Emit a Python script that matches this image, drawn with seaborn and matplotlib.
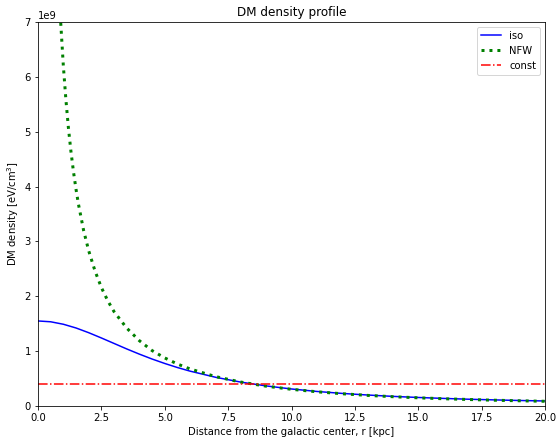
import matplotlib
matplotlib.use("Agg")
import matplotlib.pyplot as plt
import pandas as pd
import seaborn as sns

# values (density in eV/cm^3)
r_iso = [0, 0.5, 1, 1.5, 2, 2.5, 3, 3.5, 4, 4.5, 5, 5.5, 6, 7, 8, 9, 10,
         11, 12, 13, 14, 15, 16, 17, 18, 19, 20]
rho_iso = [1.55, 1.535, 1.49, 1.422, 1.336, 1.24, 1.14, 1.04, 0.945, 0.856,
           0.775, 0.701, 0.635, 0.524, 0.435, 0.366, 0.31, 0.265, 0.229,
           0.200, 0.175, 0.155, 0.138, 0.123, 0.111, 0.100, 0.0912]

r_nfw = [0.8, 0.9, 1.0, 1.1, 1.2, 1.3, 1.4, 1.5, 1.6, 1.8, 2.0, 2.25, 2.5,
         2.75, 3.0, 3.5, 4.0, 4.5, 5.0, 5.5, 6.0, 7, 8, 9, 10, 11, 12, 13,
         14, 15, 16, 17, 18, 19, 20]
rho_nfw = [7.90, 6.96, 6.20, 5.59, 5.07, 4.64, 4.27, 3.95, 3.67, 3.20, 2.83,
           2.46, 2.16, 1.92, 1.72, 1.42, 1.19, 1.01, 0.876, 0.765, 0.675,
           0.536, 0.436, 0.361, 0.304, 0.259, 0.223, 0.193, 0.169, 0.149,
           0.132, 0.118, 0.105, 0.0947, 0.0855]

r_const = [0, 20]
rho_const = [0.4, 0.4]

iso = pd.DataFrame({"r": r_iso, "rho": [v * 1e9 for v in rho_iso]})
nfw = pd.DataFrame({"r": r_nfw, "rho": [v * 1e9 for v in rho_nfw]})
const = pd.DataFrame({"r": r_const, "rho": [v * 1e9 for v in rho_const]})

fig = plt.figure(figsize=(557 / 72, 438 / 72), dpi=72)
ax = fig.add_axes([0.0682, 0.0731, 0.9103, 0.8767])

sns.lineplot(data=iso, x="r", y="rho", ax=ax, color="b", linewidth=1.5, label="iso")
sns.lineplot(data=nfw, x="r", y="rho", ax=ax, color="g", linewidth=3,
             linestyle=":", label="NFW")
sns.lineplot(data=const, x="r", y="rho", ax=ax, color="r", linewidth=1.5,
             linestyle="-.", label="const")

ax.set_xlim(0, 20)
ax.set_ylim(0, 7e9)
ax.set_title("DM density profile")
ax.set_xlabel("Distance from the galactic center, r [kpc]")
ax.set_ylabel("DM density [eV/cm$^3$]")
ax.legend(loc="upper right")

fig.savefig("out.png", dpi=72)
